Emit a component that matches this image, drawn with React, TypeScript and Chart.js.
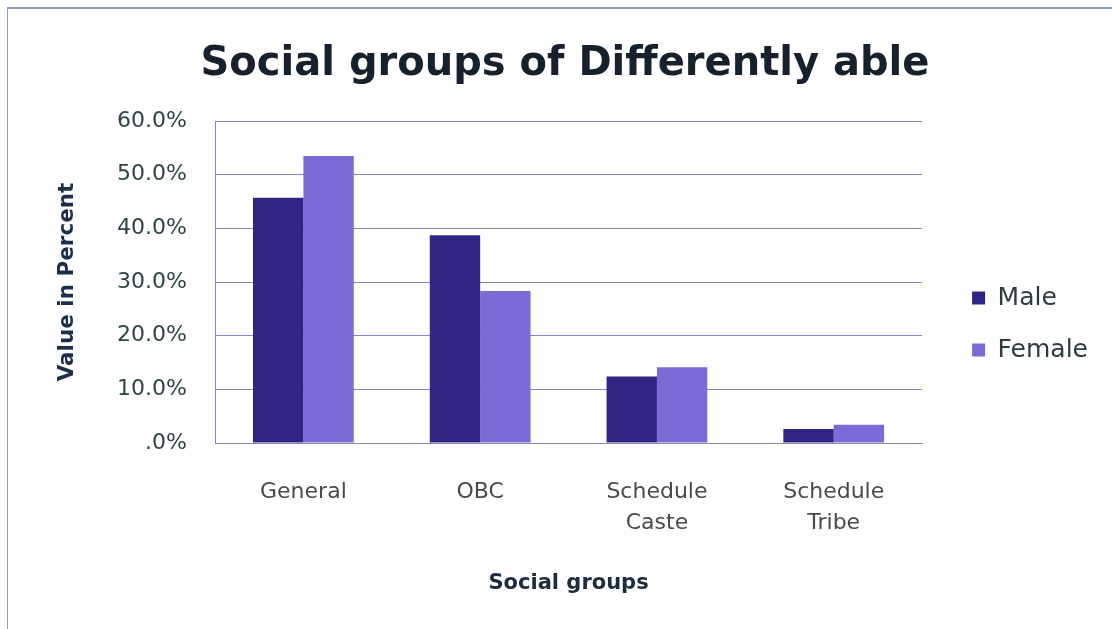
import React, { useEffect, useRef } from "react";
import { Chart, registerables } from "chart.js";

Chart.register(...registerables);

const categories: (string | string[])[] = ["General", "OBC", ["Schedule", "Caste"], ["Schedule", "Tribe"]];
const maleValues = [45.7, 38.7, 12.4, 2.6];
const femaleValues = [53.5, 28.3, 14.1, 3.4];
const seriesNames = ["Male", "Female"];
const yTickValues = [0, 10, 20, 30, 40, 50, 60];
const yTickLabels = [".0%", "10.0%", "20.0%", "30.0%", "40.0%", "50.0%", "60.0%"];
const chartTitle = "Social groups of Differently able";
const xAxisTitle = "Social groups";
const yAxisTitle = "Value in Percent";

const MALE_COLOR = "#2e2682";
const FEMALE_COLOR = "#7b6bd6";
const GRID_COLOR = "#8288c6";

export default function App() {
  const canvasRef = useRef<HTMLCanvasElement | null>(null);

  useEffect(() => {
    const canvas = canvasRef.current;
    if (!canvas) return;
    const chart = new Chart(canvas, {
      type: "bar",
      data: {
        labels: categories,
        datasets: [
          {
            label: seriesNames[0],
            data: maleValues,
            backgroundColor: MALE_COLOR,
            borderWidth: 0,
            categoryPercentage: 0.57,
            barPercentage: 1,
          },
          {
            label: seriesNames[1],
            data: femaleValues,
            backgroundColor: FEMALE_COLOR,
            borderWidth: 0,
            categoryPercentage: 0.57,
            barPercentage: 1,
          },
        ],
      },
      options: {
        responsive: false,
        animation: false,
        devicePixelRatio: 1,
        layout: { padding: { left: 32, top: 19, right: 14, bottom: 0 } },
        plugins: {
          tooltip: { enabled: false },
          title: {
            display: true,
            text: chartTitle,
            color: "#16212d",
            font: { family: "DejaVu Sans", size: 40, weight: "bold", lineHeight: 1.2 },
            padding: { top: 22, bottom: 32 },
          },
          legend: {
            display: true,
            position: "right",
            align: "center",
            labels: {
              boxWidth: 13,
              boxHeight: 13,
              padding: 27,
              color: "#2c3d40",
              font: { family: "DejaVu Sans", size: 25 },
            },
          },
        },
        scales: {
          x: {
            grid: { display: false, drawTicks: false },
            border: { display: true, color: GRID_COLOR, width: 1 },
            ticks: {
              color: "#474b4e",
              font: { family: "DejaVu Sans", size: 22, lineHeight: 1.4 },
              padding: 34,
              maxRotation: 0,
              autoSkip: false,
            },
            title: {
              display: true,
              text: xAxisTitle,
              color: "#1c2c40",
              font: { family: "DejaVu Sans", size: 21, weight: "bold", lineHeight: 1.2 },
              padding: { top: 0, bottom: 33 },
            },
            afterFit: (s: any) => {
              s.height = 186;
            },
          },
          y: {
            min: 0,
            max: 60,
            afterBuildTicks: (s: any) => {
              s.ticks = yTickValues.map((v) => ({ value: v }));
            },
            grid: { display: true, color: GRID_COLOR, lineWidth: 1, drawTicks: false },
            border: { display: true, color: GRID_COLOR, width: 1 },
            ticks: {
              color: "#2f4446",
              font: { family: "DejaVu Sans", size: 22 },
              padding: 28,
              callback: (value: any) => {
                const i = yTickValues.indexOf(Number(value));
                return i >= 0 ? yTickLabels[i] : "";
              },
            },
            title: {
              display: true,
              text: yAxisTitle,
              color: "#1c2f4a",
              font: { family: "DejaVu Sans", size: 21.5, weight: "bold", lineHeight: 1.2 },
              padding: { top: 23, bottom: 0 },
            },
            afterFit: (s: any) => {
              s.width = 183;
            },
          },
          spacer: {
            type: "linear",
            position: "right",
            display: true,
            grid: { display: false, drawTicks: false },
            border: { display: false },
            ticks: { display: false },
            afterFit: (s: any) => {
              s.width = 23;
            },
          },
        },
      },
    } as any);
    return () => chart.destroy();
  }, []);

  return (
    <div style={{ position: "absolute", left: 0, top: 0, width: 1112, height: 629, background: "#ffffff", overflow: "hidden" }}>
      <div
        style={{
          position: "absolute",
          left: 7,
          top: 7,
          width: 1200,
          height: 700,
          borderTop: "2px solid #8e9cc2",
          borderLeft: "1px solid #8e9cc2",
        }}
      />
      <canvas ref={canvasRef} width={1112} height={629} style={{ position: "absolute", left: 0, top: 0 }} />
    </div>
  );
}
